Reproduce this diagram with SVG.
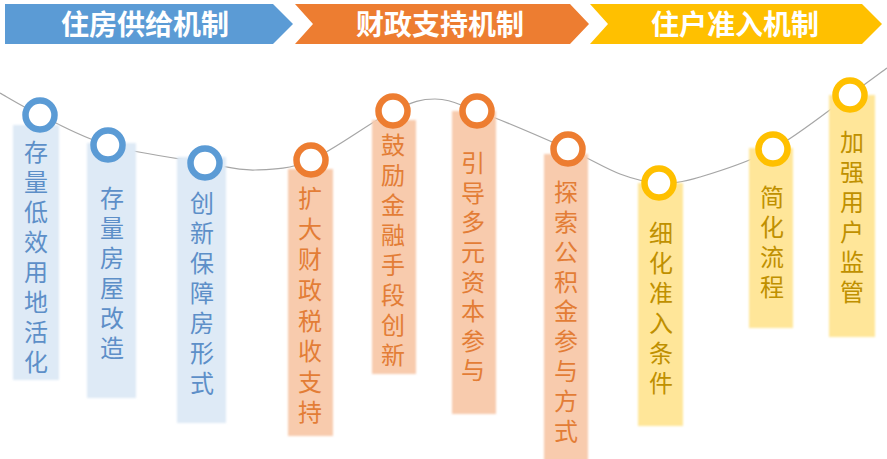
<svg xmlns="http://www.w3.org/2000/svg" width="887" height="459" viewBox="0 0 887 459">
<style>
.title{font-family:"Noto Sans CJK SC","Noto Sans",sans-serif;font-size:28px;font-weight:bold;fill:#fff;text-anchor:middle}
.lbl{font-family:"Noto Sans CJK SC","Noto Sans",sans-serif;font-size:24px;writing-mode:vertical-rl;letter-spacing:6px}
.b .card{fill:#DEEAF6}.b .ring{stroke:#5B9BD5}.b text{fill:#5D8FC8}
.o .card{fill:#F8CBAD}.o .ring{stroke:#ED7D31}.o text{fill:#E37D36}
.y .card{fill:#FFE699}.y .ring{stroke:#FFC000}.y text{fill:#BF9000}
.ring{fill:#fff;stroke-width:6.5}
</style>
<defs>
<filter id="soft" x="-10%" y="-5%" width="120%" height="110%"><feGaussianBlur stdDeviation="0.8"/></filter>
</defs>
<rect width="887" height="459" fill="#fff"/>
<g id="banners">
<g id="banner-supply"><polygon points="5,4 273,4 293,24 273,44 5,44" fill="#5B9BD5"/><text class="title" x="145" y="35">住房供给机制</text></g>
<g id="banner-finance"><polygon points="295,4 570,4 589,24 570,44 295,44 313,24" fill="#ED7D31"/><text class="title" x="440" y="35">财政支持机制</text></g>
<g id="banner-access"><polygon points="590,4 862,4 882,24 862,44 590,44 608,24" fill="#FFC000"/><text class="title" x="735" y="35">住户准入机制</text></g>
</g>
<g id="connectors">
<path d="M0,93 C6.7,96.7 22,106.3 40,115 C58,123.7 80.5,137 108,145 C135.5,153 180.5,158.8 205,163 C229.5,167.2 237.3,170.5 255,170 C272.7,169.5 288,169.8 311,160 C334,150.2 372.3,120.8 393,111 C413.7,101.2 421,99 435,99 C449,99 454.8,103 477,111 C499.2,119 544.2,138.5 568,149 C591.8,159.5 604.8,168.3 620,174 C635.2,179.7 645.7,182.5 659,183 C672.3,183.5 681,182.7 700,177 C719,171.3 748,162.7 773,149 C798,135.3 831,108.5 850,95 C869,81.5 880.8,72.5 887,68" fill="none" stroke="#A6A6A6" stroke-width="1.2"/>
</g>
<g id="n1" class="b"><rect class="card" x="13" y="125" width="46" height="255" filter="url(#soft)"/><circle class="ring" cx="40" cy="115" r="14.5"/>
<text class="lbl" x="36" y="140">存量低效用地活化</text></g>
<g id="n2" class="b"><rect class="card" x="87" y="143" width="49" height="255" filter="url(#soft)"/><circle class="ring" cx="108" cy="145" r="14.5"/>
<text class="lbl" x="112" y="186">存量房屋改造</text></g>
<g id="n3" class="b"><rect class="card" x="177" y="157" width="49" height="266" filter="url(#soft)"/><circle class="ring" cx="205" cy="163" r="14.5"/>
<text class="lbl" x="202" y="191">创新保障房形式</text></g>
<g id="n4" class="o"><rect class="card" x="288" y="169" width="45" height="267" filter="url(#soft)"/><circle class="ring" cx="311" cy="160" r="14.5"/>
<text class="lbl" x="310" y="186" style="letter-spacing:6.6px">扩大财政税收支持</text></g>
<g id="n5" class="o"><rect class="card" x="372" y="120" width="44" height="254" filter="url(#soft)"/><circle class="ring" cx="393" cy="111" r="14.5"/>
<text class="lbl" x="393" y="133">鼓励金融手段创新</text></g>
<g id="n6" class="o"><rect class="card" x="452" y="111" width="44" height="303" filter="url(#soft)"/><circle class="ring" cx="477" cy="111" r="14.5"/>
<text class="lbl" x="473" y="151" style="letter-spacing:5.6px">引导多元资本参与</text></g>
<g id="n7" class="o"><rect class="card" x="544" y="154" width="44" height="310" filter="url(#soft)"/><circle class="ring" cx="568" cy="149" r="14.5"/>
<text class="lbl" x="566" y="180" style="letter-spacing:5.8px">探索公积金参与方式</text></g>
<g id="n8" class="y"><rect class="card" x="638" y="183" width="45" height="243" filter="url(#soft)"/><circle class="ring" cx="659" cy="183" r="14.5"/>
<text class="lbl" x="661" y="221">细化准入条件</text></g>
<g id="n9" class="y"><rect class="card" x="749" y="148" width="44" height="180" filter="url(#soft)"/><circle class="ring" cx="773" cy="149" r="14.5"/>
<text class="lbl" x="772" y="185">简化流程</text></g>
<g id="n10" class="y"><rect class="card" x="829" y="95" width="46" height="242" filter="url(#soft)"/><circle class="ring" cx="850" cy="95" r="14.5"/>
<text class="lbl" x="852" y="130">加强用户监管</text></g>
</svg>
